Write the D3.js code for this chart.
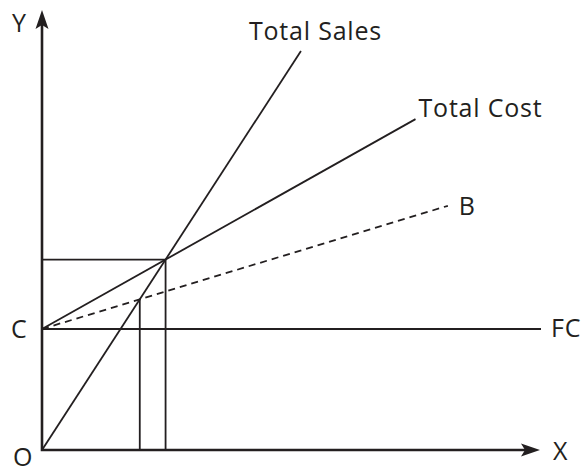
<!DOCTYPE html>
<meta charset="utf-8">
<style>
    body { margin: 0; background: #fff; }
    svg text {
        font-family: "Open Sans", sans-serif;
        font-size: 25px;
        letter-spacing: 0.8px;
        fill: #231f20;
    }
    .axis { stroke: #231f20; stroke-width: 2.6; fill: none; }
    .line { stroke: #231f20; stroke-width: 1.8; fill: none; }
    .dashed { stroke-dasharray: 7, 5; }
</style>
<svg></svg>
<script src="https://d3js.org/d3.v7.min.js"></script>
<script>

    var width = 585,
        height = 473;

    // chart values, in chart units (origin O = 0,0)
    var fixedCost = 27.5;
    var xMax = 100, yMax = 100;
    var salesLine = [[0, 0], [52, 90.7]];
    var costLine = [[0, fixedCost], [75, 75.2]];
    var variableLine = [[0, fixedCost], [81.5, 55.5]];
    var fcLine = [[0, fixedCost], [100.2, fixedCost]];
    var lineLabels = ["Total Sales", "Total Cost", "B", "FC"];
    var axisLabels = ["X", "Y", "O", "C"];

    var svg = d3.select("svg")
        .attr("width", width)
        .attr("height", height);

    var x = d3.scaleLinear().domain([0, xMax]).range([42, 540]);
    var y = d3.scaleLinear().domain([0, yMax]).range([450, 10]);

    var line = d3.line()
        .x(function (d) { return x(d[0]); })
        .y(function (d) { return y(d[1]); });

    // where two straight lines meet
    function meet(a, b) {
        var m1 = (a[1][1] - a[0][1]) / (a[1][0] - a[0][0]),
            m2 = (b[1][1] - b[0][1]) / (b[1][0] - b[0][0]),
            c1 = a[0][1] - m1 * a[0][0],
            c2 = b[0][1] - m2 * b[0][0];
        var u = (c2 - c1) / (m1 - m2);
        return [u, m1 * u + c1];
    }

    var breakEven = meet(salesLine, costLine);
    var marginal = meet(salesLine, variableLine);

    // guide lines to the axes
    svg.append("path").attr("class", "line")
        .attr("d", line([[0, breakEven[1]], breakEven, [breakEven[0], 0]]));
    svg.append("path").attr("class", "line")
        .attr("d", line([marginal, [marginal[0], 0]]));

    svg.append("path").attr("class", "line").attr("d", line(fcLine));
    svg.append("path").attr("class", "line dashed").attr("d", line(variableLine));
    svg.append("path").attr("class", "line").attr("d", line(costLine));
    svg.append("path").attr("class", "line").attr("d", line(salesLine));

    // axes with arrow heads
    svg.append("path").attr("class", "axis")
        .attr("d", line([[0, yMax - 3], [0, 0], [xMax - 3, 0]]));

    var tipY = [x(0), y(yMax)], tipX = [x(xMax), y(0)];
    svg.append("path").attr("fill", "#231f20")
        .attr("d", "M" + tipY[0] + "," + tipY[1] +
            "L" + (tipY[0] + 6.5) + "," + (tipY[1] + 19) +
            "L" + tipY[0] + "," + (tipY[1] + 15) +
            "L" + (tipY[0] - 6.5) + "," + (tipY[1] + 19) + "Z");
    svg.append("path").attr("fill", "#231f20")
        .attr("d", "M" + tipX[0] + "," + tipX[1] +
            "L" + (tipX[0] - 19) + "," + (tipX[1] - 6.5) +
            "L" + (tipX[0] - 15) + "," + tipX[1] +
            "L" + (tipX[0] - 19) + "," + (tipX[1] + 6.5) + "Z");

    // labels
    svg.append("text").attr("x", x(salesLine[1][0]) - 52).attr("y", 40).text(lineLabels[0]);
    svg.append("text").attr("x", x(costLine[1][0]) + 3).attr("y", 117).text(lineLabels[1]);
    svg.append("text").attr("x", x(variableLine[1][0]) + 11).attr("y", y(variableLine[1][1]) + 9).text(lineLabels[2]);
    svg.append("text").attr("x", x(fcLine[1][0]) + 10).attr("y", y(fixedCost) + 8).text(lineLabels[3]);

    svg.append("text").attr("x", x(xMax) + 13).attr("y", y(0) + 10).text(axisLabels[0]);
    svg.append("text").attr("x", x(0) - 30).attr("y", y(yMax) + 22).text(axisLabels[1]);
    svg.append("text").attr("x", x(0) - 29).attr("y", y(0) + 16).text(axisLabels[2]);
    svg.append("text").attr("x", x(0) - 31).attr("y", y(fixedCost) + 9).text(axisLabels[3]);

</script>
